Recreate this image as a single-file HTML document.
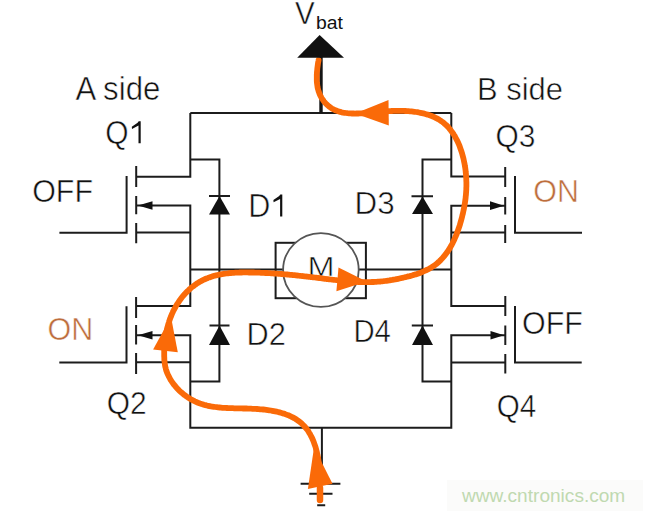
<!DOCTYPE html>
<html><head><meta charset="utf-8">
<style>
html,body{margin:0;padding:0;background:#fff;width:645px;height:512px;overflow:hidden}
svg{display:block}
text{font-family:"Liberation Sans",sans-serif;fill:#111;stroke:#fff;stroke-width:0.5px}
</style></head>
<body>
<svg width="645" height="512" viewBox="0 0 645 512" xmlns="http://www.w3.org/2000/svg">
<rect width="645" height="512" fill="#fff"/>
<rect x="447" y="480" width="196" height="31" fill="#fbfbfa"/>
<g fill="none" stroke="#1c1c1c" stroke-width="2" stroke-linecap="butt" stroke-linejoin="miter">
  <!-- top rail -->
  <path d="M190.3,113 H451.3"/>
  <!-- left side -->
  <path d="M190.3,113 V176.7 H136.5"/>
  <path d="M137,205.6 H190.3 V306 H136.5"/>
  <path d="M136.5,232.6 H190.3"/>
  <path d="M136.5,335.2 H190.3 V427.8 H451.3 V335.2 H505"/>
  <path d="M136.5,362.2 H190.3"/>
  <path d="M190.3,159.5 H219.4 V381.6 H190.3"/>
  <!-- right side -->
  <path d="M451.3,113 V176.5 H505"/>
  <path d="M505,205.7 H451.3 V306.1 H505"/>
  <path d="M451.3,232.6 H505"/>
  <path d="M451.3,362.4 H505"/>
  <path d="M451.3,159.6 H422.5 V381.5 H451.3"/>
  <!-- motor wire -->
  <path d="M190.3,269.6 H451.3"/>
  <!-- gates -->
  <path d="M59.4,232.7 H126.6 V176"/>
  <path d="M59.3,362.5 H126.5 V306.3"/>
  <path d="M582,232.8 H515 V176"/>
  <path d="M581.7,362.4 H515 V306"/>
  <!-- channels -->
  <path d="M136.2,166 V187 M136.2,196 V214.2 M136.2,223 V243.3"/>
  <path d="M136.1,297 V318 M136.1,325 V344.5 M136.1,353 V374"/>
  <path d="M505.2,167 V187 M505.2,197 V214.5 M505.2,225 V243"/>
  <path d="M505.3,296 V316 M505.3,325.5 V345 M505.3,354 V373.5"/>
  <!-- diode bars -->
  <path d="M209,196.1 H230 M209.5,325.5 H229.5 M411.5,196.2 H433 M411.8,325.5 H433"/>
  <!-- motor box -->
  <rect x="275.6" y="242.8" width="90.3" height="55.4"/>
  <!-- ground -->
  <path d="M321.9,427.8 V484 M300.6,483.8 H340.4 M309.2,493.8 H332.5 M317.2,505.3 H325.2"/>
</g>
<!-- vbat stem -->
<path d="M321,57 V113" stroke="#151515" stroke-width="3.4"/>
<g fill="#111">
  <!-- source arrows -->
  <polygon points="138,205.5 152.5,201.3 152.5,209.7"/>
  <polygon points="138,335.2 152.5,331 152.5,339.4"/>
  <polygon points="504,205.7 490,201.3 490,210.1"/>
  <polygon points="504,335.3 490.5,331 490.5,339.6"/>
  <!-- diodes -->
  <polygon points="219.5,196 209,214.5 230,214.5"/>
  <polygon points="219.5,325.5 209,345 230,345"/>
  <polygon points="422.5,196.5 412,214 433,214"/>
  <polygon points="422.5,325.5 412,345 433,345"/>
</g>
<ellipse cx="320.9" cy="270" rx="37.8" ry="36.9" fill="#fff" stroke="#555" stroke-width="1.8"/>

<!-- labels -->
<text transform="translate(295.10,24.40) scale(0.9524,1.0227)" font-size="31" style="fill:#111">V</text>
<text transform="translate(316.0,28.5) scale(1.02,0.9650)" font-size="19" style="fill:#111;stroke:none">bat</text>
<text transform="translate(75.40,99.80) scale(1.0395,1.0864)" font-size="30" style="fill:#111">A side</text>
<text transform="translate(105.20,143.60) scale(1.0000,1.0913)" font-size="30" style="fill:#111">Q</text>
<text transform="translate(32.19,201.80) scale(1.0138,1.0670)" font-size="30" style="fill:#111">OFF</text>
<text transform="translate(248.36,216.60) scale(1.0200,1.0913)" font-size="30" style="fill:#111">D</text>
<text transform="translate(354.61,214.10) scale(1.0457,1.0524)" font-size="30" style="fill:#111">D3</text>
<text transform="translate(476.94,99.50) scale(1.0312,1.0718)" font-size="30" style="fill:#111">B side</text>
<text transform="translate(495.40,146.60) scale(0.9974,1.0379)" font-size="30" style="fill:#111">Q3</text>
<text transform="translate(533.29,202.00) scale(1.0143,1.0718)" font-size="30" style="fill:#bd6d3c">ON</text>
<text transform="translate(307.50,276.30) scale(1.3000,1.1222)" font-size="25" style="fill:#111">M</text>
<text transform="translate(47.58,340.20) scale(1.0167,1.0573)" font-size="30" style="fill:#bd6d3c">ON</text>
<text transform="translate(246.55,344.80) scale(1.0257,1.0718)" font-size="30" style="fill:#111">D2</text>
<text transform="translate(353.44,342.40) scale(0.9778,1.0718)" font-size="30" style="fill:#111">D4</text>
<text transform="translate(522.09,333.50) scale(1.0138,1.0718)" font-size="30" style="fill:#111">OFF</text>
<text transform="translate(106.70,413.50) scale(0.9974,1.0670)" font-size="30" style="fill:#111">Q2</text>
<text transform="translate(496.71,417.40) scale(0.9868,1.0524)" font-size="30" style="fill:#111">Q4</text>
<text transform="translate(462.00,502.30) scale(1.0049,1.0000)" font-size="19" style="fill:#c0d9b0;stroke:none">www.cntronics.com</text>
<polygon points="282.3,194.6 282.3,216.6 280.1,216.6 280.1,198.9 273.6,202.2 273.4,200.1 279.2,196.1 280.3,194.6" fill="#111"/>
<polygon transform="translate(-141.6,-73.3)" points="282.3,194.6 282.3,216.6 280.1,216.6 280.1,198.9 273.6,202.2 273.4,200.1 279.2,196.1 280.3,194.6" fill="#111"/>

<!-- orange current path -->
<g fill="none" stroke="#fa6a08" stroke-width="5.8" stroke-linecap="round" stroke-linejoin="round">
  <path d="M318.6,60.0 L318.4,61.3 L318.1,62.7 L317.9,64.2 L317.7,65.6 L317.5,67.1 L317.3,68.6 L317.2,70.1 L317.0,71.6 L316.9,73.1 L316.8,74.7 L316.8,76.2 L316.8,77.8 L316.8,79.3 L316.8,80.8 L316.9,82.4 L317.1,83.9 L317.3,85.4 L317.5,86.9 L317.8,88.4 L318.2,89.8 L318.6,91.2 L319.1,92.6 L319.6,94.0 L320.2,95.3 L320.9,96.6 L321.5,97.8 L322.3,99.0 L323.1,100.2 L323.9,101.4 L324.8,102.4 L325.8,103.5 L326.8,104.5 L327.8,105.4 L328.9,106.4 L330.0,107.2 L331.1,108.0 L332.3,108.7 L333.6,109.4 L334.8,110.0 L336.1,110.6 L337.5,111.1 L338.8,111.5 L340.2,111.9 L341.6,112.3 L343.1,112.6 L344.5,112.8 L346.0,113.0 L347.5,113.2 L349.0,113.3 L350.5,113.4 L352.0,113.5 L353.5,113.5 L355.1,113.6 L356.6,113.5 L358.2,113.5 L359.7,113.4 L361.2,113.4 L362.7,113.3 L364.2,113.2 L365.7,113.1 L367.2,113.0 L368.7,112.8 L370.2,112.7 L371.6,112.6 L373.1,112.5 L374.5,112.3 L375.9,112.2 L377.4,112.1 L378.8,111.9 L380.2,111.8 L381.7,111.7 L383.1,111.6 L384.5,111.4 L386.0,111.3 L387.4,111.2 L388.9,111.1 L390.3,111.1 L391.8,111.0 L393.3,110.9 L394.8,110.9 L396.3,110.9 L397.8,110.8 L399.3,110.8 L400.8,110.8 L402.3,110.9 L403.9,110.9 L405.4,111.0 L406.9,111.1 L408.4,111.2 L409.9,111.3 L411.5,111.4 L413.0,111.6 L414.5,111.8 L416.0,112.0 L417.5,112.2 L418.9,112.5 L420.4,112.8 L421.9,113.1 L423.3,113.4 L424.7,113.8 L426.1,114.2 L427.6,114.6 L428.9,115.0 L430.3,115.5 L431.7,116.0 L433.0,116.6 L434.3,117.2 L435.6,117.8 L436.8,118.4 L438.1,119.1 L439.3,119.8 L440.5,120.6 L441.6,121.4 L442.8,122.2 L443.9,123.1 L444.9,124.0 L446.0,124.9 L447.0,125.9 L448.0,126.9 L448.9,128.0 L449.8,129.1 L450.7,130.2 L451.6,131.4 L452.4,132.5 L453.3,133.7 L454.0,135.0 L454.8,136.2 L455.5,137.5 L456.2,138.8 L456.9,140.1 L457.6,141.5 L458.2,142.8 L458.8,144.2 L459.4,145.6 L459.9,147.0 L460.4,148.4 L460.9,149.9 L461.4,151.3 L461.9,152.8 L462.3,154.2 L462.7,155.7 L463.1,157.2 L463.5,158.7 L463.8,160.2 L464.1,161.7 L464.4,163.1 L464.7,164.6 L464.9,166.1 L465.2,167.6 L465.4,169.1 L465.6,170.6 L465.7,172.0 L465.9,173.5 L466.0,175.0 L466.1,176.4 L466.2,177.9 L466.3,179.4 L466.3,180.8 L466.4,182.3 L466.4,183.7 L466.4,185.2 L466.4,186.6 L466.3,188.0 L466.3,189.5 L466.2,190.9 L466.1,192.4 L466.0,193.8 L465.9,195.2 L465.7,196.7 L465.6,198.1 L465.4,199.5 L465.2,201.0 L465.0,202.4 L464.8,203.8 L464.5,205.3 L464.3,206.7 L464.0,208.1 L463.7,209.6 L463.4,211.0 L463.1,212.5 L462.8,213.9 L462.4,215.3 L462.1,216.8 L461.7,218.2 L461.3,219.7 L460.9,221.1 L460.5,222.6 L460.1,224.0 L459.7,225.4 L459.2,226.9 L458.7,228.3 L458.2,229.7 L457.7,231.2 L457.2,232.6 L456.7,234.0 L456.1,235.4 L455.5,236.8 L454.9,238.1 L454.3,239.5 L453.7,240.9 L453.0,242.2 L452.4,243.5 L451.7,244.8 L451.0,246.1 L450.2,247.4 L449.5,248.7 L448.7,249.9 L447.9,251.1 L447.1,252.3 L446.2,253.5 L445.3,254.7 L444.4,255.8 L443.5,256.9 L442.6,258.0 L441.6,259.0 L440.6,260.1 L439.6,261.1 L438.6,262.0 L437.5,263.0 L436.4,263.9 L435.3,264.8 L434.1,265.6 L432.9,266.4 L431.7,267.2 L430.5,267.9 L429.2,268.7 L427.9,269.4 L426.6,270.0 L425.3,270.6 L424.0,271.2 L422.6,271.8 L421.2,272.4 L419.8,272.9 L418.4,273.4 L417.0,273.9 L415.6,274.4 L414.1,274.8 L412.7,275.3 L411.2,275.7 L409.8,276.1 L408.3,276.4 L406.9,276.8 L405.4,277.2 L403.9,277.5 L402.5,277.8 L401.0,278.2 L399.5,278.5 L398.1,278.8 L396.6,279.1 L395.2,279.4 L393.7,279.6 L392.3,279.9 L390.8,280.1 L389.4,280.4 L387.9,280.6 L386.5,280.8 L385.1,281.0 L383.6,281.2 L382.2,281.3 L380.7,281.5 L379.3,281.6 L377.8,281.7 L376.3,281.8 L374.9,281.9 L373.4,282.0 L372.0,282.0 L370.5,282.1 L369.0,282.1 L367.6,282.1 L366.1,282.1 L364.6,282.1 L363.2,282.1 L361.7,282.1 L360.2,282.0 L358.8,282.0 L357.3,281.9 L355.8,281.8 L354.3,281.7 L352.9,281.7 L351.4,281.6 L349.9,281.4 L348.4,281.3 L347.0,281.2 L345.5,281.1 L344.0,280.9 L342.5,280.8 L341.1,280.7 L339.6,280.5 L338.1,280.3 L336.7,280.2 L335.2,280.0 L333.7,279.8 L332.2,279.7 L330.8,279.5 L329.3,279.3 L327.8,279.1 L326.4,279.0 L324.9,278.8 L323.4,278.6 L322.0,278.4 L320.5,278.2 L319.1,278.0 L317.6,277.9 L316.1,277.7 L314.7,277.5 L313.2,277.3 L311.8,277.1 L310.3,277.0 L308.9,276.8 L307.5,276.6 L306.0,276.5 L304.6,276.3 L303.1,276.1 L301.7,276.0 L300.2,275.8 L298.8,275.7 L297.4,275.5 L295.9,275.4 L294.5,275.2 L293.0,275.1 L291.6,274.9 L290.2,274.8 L288.7,274.6 L287.3,274.5 L285.8,274.4 L284.4,274.3 L282.9,274.1 L281.5,274.0 L280.0,273.9 L278.6,273.8 L277.1,273.7 L275.7,273.6 L274.2,273.5 L272.8,273.4 L271.3,273.3 L269.9,273.2 L268.4,273.1 L266.9,273.0 L265.5,273.0 L264.0,272.9 L262.5,272.8 L261.0,272.8 L259.5,272.7 L258.1,272.7 L256.6,272.6 L255.1,272.6 L253.6,272.5 L252.1,272.5 L250.6,272.5 L249.1,272.5 L247.5,272.4 L246.0,272.4 L244.5,272.4 L243.0,272.4 L241.5,272.5 L240.0,272.5 L238.4,272.6 L236.9,272.6 L235.4,272.7 L233.9,272.8 L232.4,272.9 L230.9,273.0 L229.4,273.1 L227.9,273.3 L226.4,273.5 L224.9,273.7 L223.5,273.9 L222.0,274.1 L220.6,274.4 L219.1,274.7 L217.7,275.0 L216.2,275.3 L214.8,275.7 L213.4,276.0 L212.0,276.5 L210.7,276.9 L209.3,277.4 L208.0,277.9 L206.6,278.4 L205.3,279.0 L204.0,279.6 L202.7,280.2 L201.4,280.9 L200.2,281.6 L199.0,282.3 L197.7,283.1 L196.5,283.8 L195.4,284.6 L194.2,285.5 L193.1,286.4 L191.9,287.2 L190.8,288.2 L189.7,289.1 L188.7,290.1 L187.6,291.1 L186.6,292.1 L185.6,293.1 L184.6,294.2 L183.7,295.3 L182.7,296.4 L181.8,297.5 L180.9,298.7 L180.0,299.9 L179.2,301.1 L178.4,302.3 L177.6,303.5 L176.8,304.7 L176.0,306.0 L175.3,307.3 L174.6,308.6 L173.9,309.9 L173.2,311.2 L172.6,312.6 L172.0,313.9 L171.4,315.3 L170.9,316.7 L170.3,318.1 L169.8,319.5 L169.3,320.9 L168.9,322.3 L168.4,323.8 L168.0,325.2 L167.6,326.7 L167.2,328.1 L166.9,329.6 L166.6,331.1 L166.3,332.6 L166.0,334.0 L165.7,335.5 L165.5,337.0 L165.2,338.5 L165.0,340.0 L164.9,341.5 L164.7,343.0 L164.6,344.5 L164.5,346.0 L164.4,347.5 L164.3,348.9 L164.2,350.4 L164.2,351.9 L164.2,353.4 L164.2,354.9 L164.2,356.3 L164.3,357.8 L164.3,359.2 L164.4,360.7 L164.6,362.1 L164.8,363.6 L165.0,365.0 L165.2,366.4 L165.6,367.8 L165.9,369.2 L166.3,370.6 L166.8,371.9 L167.3,373.3 L167.9,374.6 L168.5,375.9 L169.2,377.2 L169.9,378.5 L170.6,379.8 L171.4,381.0 L172.3,382.3 L173.1,383.5 L174.0,384.7 L175.0,385.8 L175.9,387.0 L176.9,388.1 L178.0,389.2 L179.0,390.3 L180.1,391.3 L181.2,392.3 L182.4,393.3 L183.5,394.2 L184.7,395.2 L185.9,396.0 L187.1,396.9 L188.4,397.7 L189.6,398.5 L190.9,399.3 L192.2,400.0 L193.5,400.6 L194.8,401.3 L196.1,401.9 L197.4,402.5 L198.7,403.0 L200.1,403.5 L201.4,403.9 L202.7,404.4 L204.1,404.8 L205.5,405.1 L206.9,405.5 L208.2,405.8 L209.6,406.1 L211.0,406.4 L212.4,406.6 L213.9,406.8 L215.3,407.0 L216.7,407.2 L218.1,407.4 L219.6,407.5 L221.0,407.6 L222.5,407.8 L223.9,407.9 L225.4,407.9 L226.9,408.0 L228.3,408.1 L229.8,408.1 L231.3,408.2 L232.8,408.2 L234.3,408.3 L235.8,408.3 L237.3,408.3 L238.8,408.4 L240.3,408.4 L241.8,408.4 L243.3,408.5 L244.9,408.5 L246.4,408.5 L247.9,408.6 L249.4,408.6 L251.0,408.7 L252.5,408.8 L254.0,408.8 L255.6,408.9 L257.1,409.0 L258.7,409.1 L260.2,409.3 L261.7,409.4 L263.2,409.5 L264.8,409.7 L266.3,409.9 L267.8,410.1 L269.3,410.3 L270.8,410.5 L272.3,410.8 L273.7,411.1 L275.2,411.4 L276.7,411.7 L278.1,412.0 L279.5,412.4 L280.9,412.8 L282.3,413.2 L283.7,413.6 L285.1,414.1 L286.4,414.6 L287.7,415.1 L289.1,415.6 L290.3,416.2 L291.6,416.8 L292.8,417.4 L294.1,418.1 L295.3,418.8 L296.4,419.5 L297.6,420.3 L298.7,421.1 L299.8,421.9 L300.9,422.8 L301.9,423.7 L302.9,424.7 L303.9,425.7 L304.8,426.7 L305.7,427.8 L306.6,428.9 L307.5,430.0 L308.3,431.2 L309.0,432.4 L309.8,433.7 L310.5,435.0 L311.2,436.3 L311.9,437.6 L312.5,439.0 L313.1,440.4 L313.7,441.8 L314.2,443.3 L314.7,444.7 L315.2,446.2 L315.7,447.7 L316.1,449.2 L316.5,450.7 L316.9,452.2 L317.2,453.7 L317.5,455.2 L317.9,456.7 L318.1,458.3 L318.4,459.8 L318.6,461.3 L318.8,462.8 L319.0,464.3 L319.2,465.8 L319.3,467.3 L319.5,468.8 L319.6,470.3 L319.6,471.7 L319.7,473.1 L319.8,474.5 L319.8,475.9 L319.8,477.3 L319.8,478.6 L319.7,479.9"/>
  <path d="M320,488 V500" stroke-width="6.5"/>
</g>
<g fill="#fa6a08">
  <polygon points="355,113.5 388.5,100 388.8,125.5"/>
  <polygon points="366.7,281.5 338.5,267.4 336.4,291.2"/>
  <polygon points="171,317 153.1,349.6 177.8,352.3"/>
  <polygon points="313.8,449 319.5,458 332.5,483.8 307.9,489.1"/>
</g>
<polygon points="319.6,35 297.2,57.8 344,57.8" fill="#111"/>
</svg>
</body></html>
